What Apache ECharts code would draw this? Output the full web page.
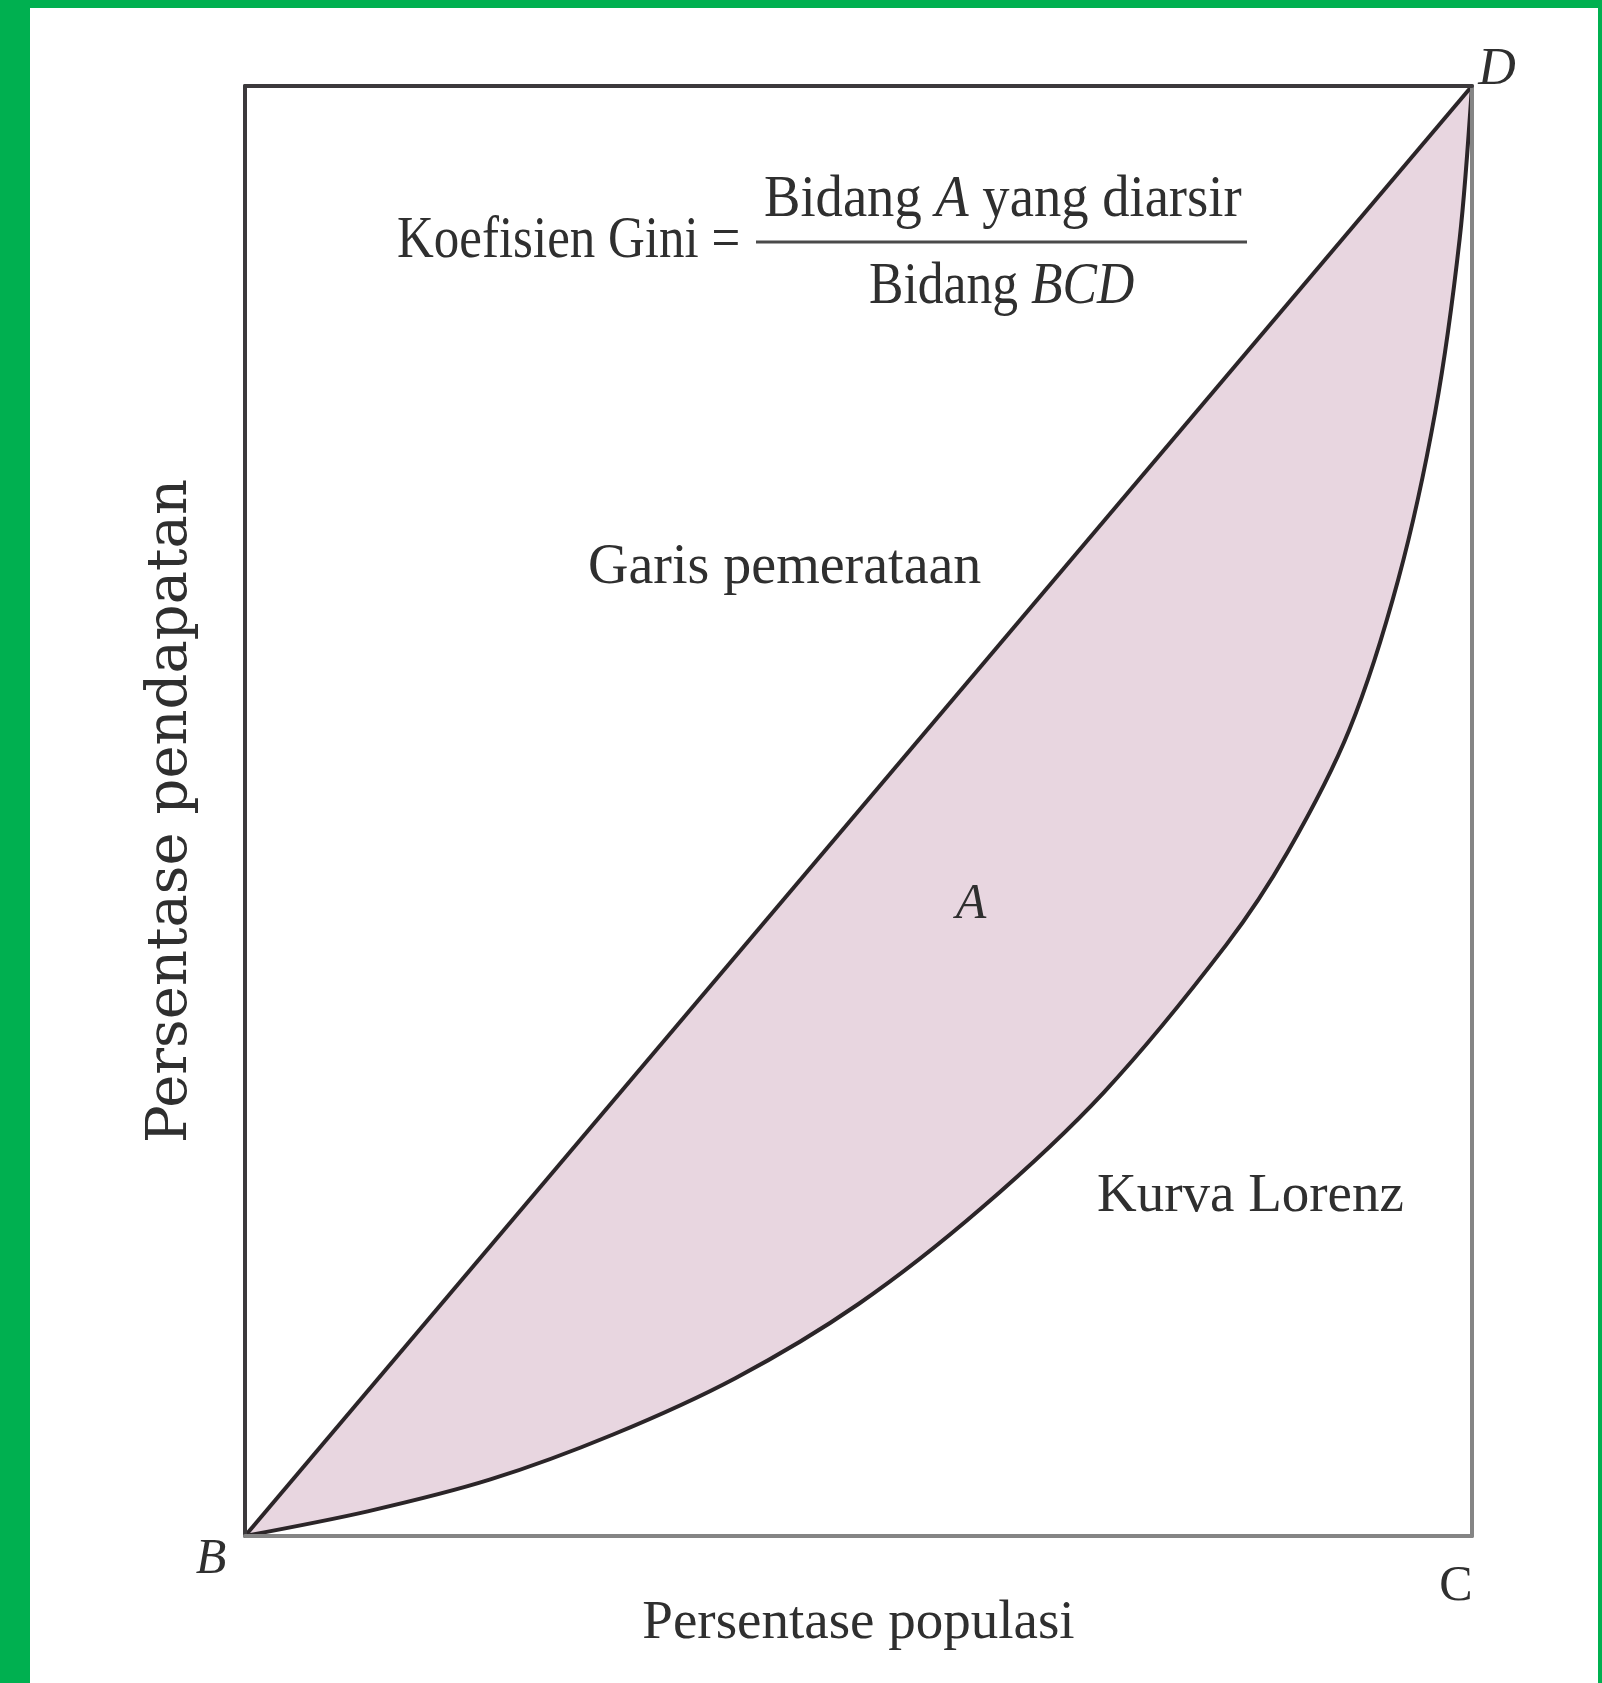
<!DOCTYPE html>
<html><head><meta charset="utf-8">
<script src="https://cdn.jsdelivr.net/npm/echarts@6/dist/echarts.min.js"></script>
<style>
html,body{margin:0;padding:0;background:#fff;}
#chart{position:absolute;left:0;top:0;width:1602px;height:1683px;}
.g{position:absolute;background:#00b050;}
</style></head><body>
<div id="chart"></div>
<div class="g" style="left:0;top:0;width:30px;height:1683px"></div>
<div class="g" style="left:0;top:0;width:1602px;height:8px"></div>
<div class="g" style="left:1598px;top:0;width:4px;height:1683px"></div>
<script>
// ---- data (percent of population vs percent of income) ----
const equalityX = [0, 100];
const equalityY = [0, 100];
const lorenzX = [0, 10, 20, 30, 40, 50, 60, 70, 80, 85, 90, 94, 97, 99, 100];
const lorenzY = [0, 1.7, 3.9, 7.0, 10.9, 16.0, 22.6, 30.6, 40.8, 47.2, 55.6, 66.0, 77.5, 89.5, 100];
const xAxisTitle = 'Persentase populasi';
const yAxisTitle = 'Persentase pendapatan';
const cornerLabels = ['B', 'C', 'D'];
const formulaLeft = 'Koefisien Gini =';
const formulaTop = 'Bidang {i|A} yang diarsir';
const formulaBottom = 'Bidang {i|BCD}';
const equalityLabel = 'Garis pemerataan';
const lorenzLabel = 'Kurva Lorenz';
const areaLabel = 'A';

const toPairs = (xs, ys) => xs.map((x, i) => [x, ys[i]]);
const equalityData = toPairs(equalityX, equalityY);
const lorenzData = toPairs(lorenzX, lorenzY);

const SERIF = '"Liberation Serif", "Times New Roman", serif';
const TXT = '#2f2f2f';
function txt(x, y, text, size, opt) {
  opt = opt || {};
  const st = opt.italic ? 'italic ' : '';
  const font = st + size + 'px ' + SERIF;
  const align = opt.align || 'left';
  return {
    type: 'text', x: x, y: y, z: 100,
    scaleX: opt.scaleX || 1, scaleY: 1,
    style: {
      text: text, fill: TXT, font: font,
      align: align, textAlign: align,
      verticalAlign: 'middle', textVerticalAlign: 'middle',
      rich: { i: { font: 'italic ' + size + 'px ' + SERIF, fill: TXT } }
    }
  };
}

const chart = echarts.init(document.getElementById('chart'));
const darkEdge = '#3c393c';
const grayEdge = '#858585';
const baseAxis = {
  type: 'value', min: 0, max: 100, z: 10,
  axisTick: { show: false }, axisLabel: { show: false }, splitLine: { show: false }
};
chart.setOption({
  backgroundColor: '#ffffff',
  animation: false,
  grid: { left: 245, top: 86, right: 130, bottom: 147 },
  xAxis: [
    Object.assign({}, baseAxis, {
      position: 'bottom',
      axisLine: { show: true, onZero: false, lineStyle: { color: grayEdge, width: 4 } },
      name: xAxisTitle, nameLocation: 'middle', nameGap: 60,
      nameTextStyle: { fontFamily: SERIF, fontSize: 55, color: TXT }
    }),
    Object.assign({}, baseAxis, {
      position: 'top',
      axisLine: { show: true, onZero: false, lineStyle: { color: darkEdge, width: 4 } }
    })
  ],
  yAxis: [
    Object.assign({}, baseAxis, {
      position: 'left',
      axisLine: { show: true, onZero: false, lineStyle: { color: darkEdge, width: 4 } },
      name: yAxisTitle, nameLocation: 'middle', nameGap: 46, nameRotate: 90,
      nameTextStyle: { fontFamily: '"DejaVu Serif", serif', fontSize: 56, color: TXT }
    }),
    Object.assign({}, baseAxis, {
      position: 'right',
      axisLine: { show: true, onZero: false, lineStyle: { color: grayEdge, width: 4 } }
    })
  ],
  series: [
    {
      type: 'line', data: equalityData, symbol: 'none', z: 2,
      lineStyle: { width: 0, opacity: 0 },
      areaStyle: { color: '#e8d6e0', opacity: 1, origin: 'start' }
    },
    {
      type: 'line', data: lorenzData, symbol: 'none', smooth: 0.3, z: 3,
      lineStyle: { color: '#2b2528', width: 4 },
      areaStyle: { color: '#ffffff', opacity: 1, origin: 'start' }
    },
    {
      type: 'line', data: equalityData, symbol: 'none', z: 4,
      lineStyle: { color: '#2b2528', width: 4 }
    }
  ],
  graphic: [
    txt(397, 241, formulaLeft, 60, { scaleX: 0.85 }),
    txt(764, 200, formulaTop, 60, { scaleX: 0.91 }),
    { type: 'line', z: 100, shape: { x1: 756, y1: 242, x2: 1247, y2: 242 },
      style: { stroke: '#4a4a4a', lineWidth: 3 } },
    txt(869, 287, formulaBottom, 60, { scaleX: 0.86 }),
    txt(588, 568, equalityLabel, 56),
    txt(1097, 1197, lorenzLabel, 55),
    txt(971, 905, areaLabel, 50, { italic: true, align: 'center' }),
    txt(211, 1560, cornerLabels[0], 50, { italic: true, align: 'center' }),
    txt(1456, 1587, cornerLabels[1], 50, { align: 'center' }),
    txt(1497, 70, cornerLabels[2], 52, { italic: true, align: 'center' })
  ]
});
</script>
</body></html>
